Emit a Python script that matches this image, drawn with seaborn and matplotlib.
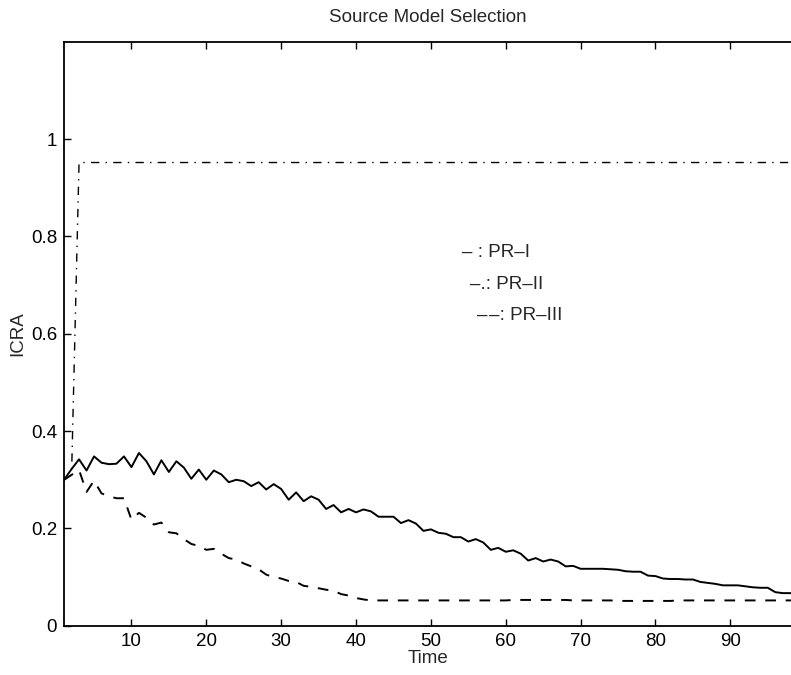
#!/usr/bin/env python3
"""
Source Model Selection: ICRA over time for PR-I, PR-II and PR-III
"""

import pandas as pd
import matplotlib
matplotlib.use("Agg")
import matplotlib.pyplot as plt
import seaborn as sns

# Data
time = list(range(1, 100))

pr1 = [
    0.300, 0.322, 0.342, 0.319, 0.348, 0.335, 0.332, 0.333, 0.348, 0.326,
    0.355, 0.338, 0.311, 0.340, 0.316, 0.338, 0.325, 0.302, 0.321, 0.300,
    0.319, 0.311, 0.295, 0.300, 0.297, 0.287, 0.295, 0.280, 0.291, 0.281,
    0.259, 0.274, 0.256, 0.266, 0.259, 0.240, 0.248, 0.233, 0.240, 0.233,
    0.239, 0.235, 0.224, 0.224, 0.224, 0.211, 0.217, 0.210, 0.195, 0.198,
    0.191, 0.189, 0.182, 0.182, 0.173, 0.178, 0.171, 0.156, 0.160, 0.152,
    0.155, 0.148, 0.134, 0.139, 0.132, 0.136, 0.132, 0.122, 0.123, 0.117,
    0.117, 0.117, 0.117, 0.116, 0.115, 0.112, 0.111, 0.111, 0.103, 0.102,
    0.097, 0.096, 0.096, 0.095, 0.095, 0.090, 0.088, 0.086, 0.083, 0.083,
    0.083, 0.081, 0.079, 0.078, 0.078, 0.069, 0.067, 0.067, 0.066,
]

pr3 = [
    0.300, 0.310, 0.320, 0.275, 0.298, 0.272, 0.266, 0.262, 0.262, 0.218,
    0.232, 0.222, 0.208, 0.212, 0.192, 0.190, 0.178, 0.168, 0.164, 0.156,
    0.158, 0.148, 0.139, 0.136, 0.128, 0.122, 0.116, 0.105, 0.100, 0.097,
    0.092, 0.090, 0.082, 0.080, 0.077, 0.074, 0.072, 0.065, 0.062, 0.057,
    0.054, 0.052, 0.052, 0.052, 0.052, 0.052, 0.052, 0.052, 0.052, 0.052,
    0.052, 0.052, 0.052, 0.052, 0.052, 0.052, 0.052, 0.052, 0.052, 0.052,
    0.053, 0.053, 0.053, 0.053, 0.053, 0.053, 0.053, 0.053, 0.052, 0.052,
    0.052, 0.052, 0.052, 0.052, 0.051, 0.051, 0.051, 0.051, 0.051, 0.051,
    0.051, 0.051, 0.052, 0.052, 0.052, 0.052, 0.052, 0.052, 0.052, 0.052,
    0.052, 0.052, 0.052, 0.052, 0.052, 0.052, 0.052, 0.052, 0.052,
]

# PR-II jumps up at t=3 and stays flat
pr2_time = [1, 2, 3, 99]
pr2 = [0.300, 0.310, 0.952, 0.952]

models = ["PR-I", "PR-II", "PR-III"]
legend_labels = ["– : PR–I", "–.: PR–II", "–\u200a–: PR–III"]

x_ticks = [10, 20, 30, 40, 50, 60, 70, 80, 90]
y_ticks = [0, 0.2, 0.4, 0.6, 0.8, 1.0]
y_tick_labels = ["0", "0.2", "0.4", "0.6", "0.8", "1"]

df = pd.concat([
    pd.DataFrame({"Time": time, "ICRA": pr1, "model": "PR-I"}),
    pd.DataFrame({"Time": pr2_time, "ICRA": pr2, "model": "PR-II"}),
    pd.DataFrame({"Time": time, "ICRA": pr3, "model": "PR-III"}),
], ignore_index=True)

sns.set_style("ticks")
plt.rcParams["font.family"] = ["Liberation Sans", "DejaVu Sans"]

FS = 13.5

fig = plt.figure(figsize=(7.91, 6.75), dpi=100)
ax = fig.add_axes([0.081, 0.073, 0.919, 0.865])

sns.lineplot(data=df, x="Time", y="ICRA", style="model", style_order=models,
             dashes={"PR-I": "", "PR-II": (6, 4.5, 1, 4.5), "PR-III": (5.5, 5)},
             color="black", estimator=None, sort=False, legend=False, ax=ax)
for line, lw in zip(ax.get_lines(), [1.4, 1.0, 1.4]):
    line.set_linewidth(lw)

ax.set_xlim(1, 98.1)
ax.set_ylim(0, 1.2)
ax.set_xticks(x_ticks)
ax.set_yticks(y_ticks)
ax.set_yticklabels(y_tick_labels)
ax.tick_params(direction="in", length=5, width=1, top=True, right=False,
               labelsize=FS, pad=5, colors="black")

for side in ["left", "bottom", "top"]:
    ax.spines[side].set_linewidth(1.3)
    ax.spines[side].set_color("black")
ax.spines["right"].set_visible(False)

ax.set_xlabel("Time", fontsize=FS, labelpad=0)
ax.set_ylabel("ICRA", fontsize=FS, labelpad=3)
ax.set_title("Source Model Selection", fontsize=FS, pad=14)

# text legend inside the axes
legend_pos = [(54.1, 0.767), (55.2, 0.702), (56.1, 0.638)]
for (tx, ty), label in zip(legend_pos, legend_labels):
    ax.text(tx, ty, label, ha="left", va="center", fontsize=FS)

fig.savefig("out.png", dpi=100)
plt.close(fig)
